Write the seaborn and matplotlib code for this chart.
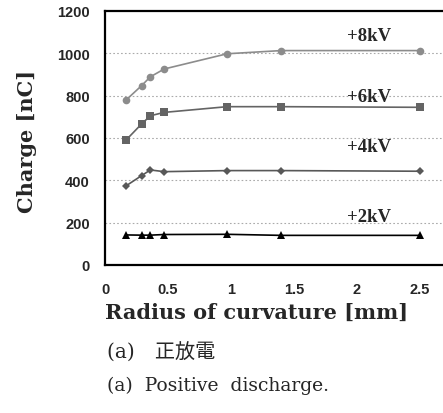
import matplotlib
matplotlib.use("Agg")
import matplotlib.pyplot as plt
import seaborn as sns
import pandas as pd

radius = [0.17, 0.29, 0.36, 0.47, 0.97, 1.40, 2.50]
kv8 = [781, 847, 889, 926, 998, 1013, 1013]
kv6 = [592, 666, 705, 721, 748, 748, 745]
kv4 = [375, 422, 449, 441, 446, 446, 443]
kv2 = [142, 141, 141, 144, 145, 140, 140]
series_names = ["+8kV", "+6kV", "+4kV", "+2kV"]
x_ticks = [0, 0.5, 1, 1.5, 2, 2.5]
x_tick_labels = ["0", "0.5", "1", "1.5", "2", "2.5"]
y_ticks = [0, 200, 400, 600, 800, 1000, 1200]

sns.set_theme(style="white")
plt.rcParams["font.family"] = ["DejaVu Sans"]

rows = []
for name, vals in zip(series_names, [kv8, kv6, kv4, kv2]):
    for xv, yv in zip(radius, vals):
        rows.append({"radius": xv, "charge": yv, "series": name})
df = pd.DataFrame(rows)

W, H = 443, 414
fig = plt.figure(figsize=(W / 100, H / 100), dpi=100)
ax = fig.add_axes([105 / W, 1 - 266 / H, 345 / W, 254 / H])

styles = {
    "+8kV": dict(color="#8c8c8c", marker="o", ms=5.5),
    "+6kV": dict(color="#646464", marker="s", ms=5.8),
    "+4kV": dict(color="#585858", marker="D", ms=4.3),
    "+2kV": dict(color="#000000", marker="^", ms=6.2),
}
for name in series_names:
    sub = df[df["series"] == name]
    st = styles[name]
    sns.lineplot(data=sub, x="radius", y="charge", ax=ax, color=st["color"],
                 marker=st["marker"], markersize=st["ms"], markeredgewidth=0,
                 linewidth=1.2, legend=False)

ax.set_xlim(0, 2.74)
ax.set_ylim(0, 1200)
ax.set_xticks(x_ticks)
ax.set_yticks(y_ticks)
ax.set_xticklabels(x_tick_labels)
for lab in ax.get_xticklabels() + ax.get_yticklabels():
    lab.set_fontweight("bold")
    lab.set_fontsize(10.5)
    lab.set_fontfamily(["Liberation Sans", "DejaVu Sans"])
ax.tick_params(axis="x", direction="in", length=4, width=0.8, color="#999999", pad=12)
ax.tick_params(axis="y", direction="in", length=4, width=0.8, color="#999999", pad=11)
for g in [200, 400, 600, 800, 1000]:
    ax.axhline(g, color="#aaaaaa", lw=0.8, ls=(0, (1.5, 2)), zorder=0)
for s in ["left", "bottom", "top"]:
    ax.spines[s].set_color("black")
    ax.spines[s].set_linewidth(1.6)
ax.spines["right"].set_visible(False)

ax.set_xlabel("")
ax.set_ylabel("")

label_y = {"+8kV": 1085, "+6kV": 794, "+4kV": 562, "+2kV": 227}
for name in series_names:
    ax.text(2.1, label_y[name], name, ha="center", va="center",
            fontsize=13.5, fontweight="bold", family=["Liberation Serif"])

fig.text(27 / W, 1 - 141 / H, "Charge [nC]", rotation=90, ha="center", va="center",
         fontsize=15, fontweight="bold", family=["DejaVu Serif"])
fig.text(257 / W, 1 - 313 / H, "Radius of curvature [mm]", ha="center", va="center",
         fontsize=15, fontweight="bold", family=["DejaVu Serif"])
fig.text(107 / W, 1 - 353 / H, "(a)　正放電", ha="left", va="center",
         fontsize=14.5, family=["DejaVu Serif", "Noto Sans CJK JP"])
fig.text(107 / W, 1 - 386 / H, "(a)  Positive  discharge.", ha="left", va="center",
         fontsize=13.5, family=["DejaVu Serif"])

fig.savefig("out.png", dpi=100)
